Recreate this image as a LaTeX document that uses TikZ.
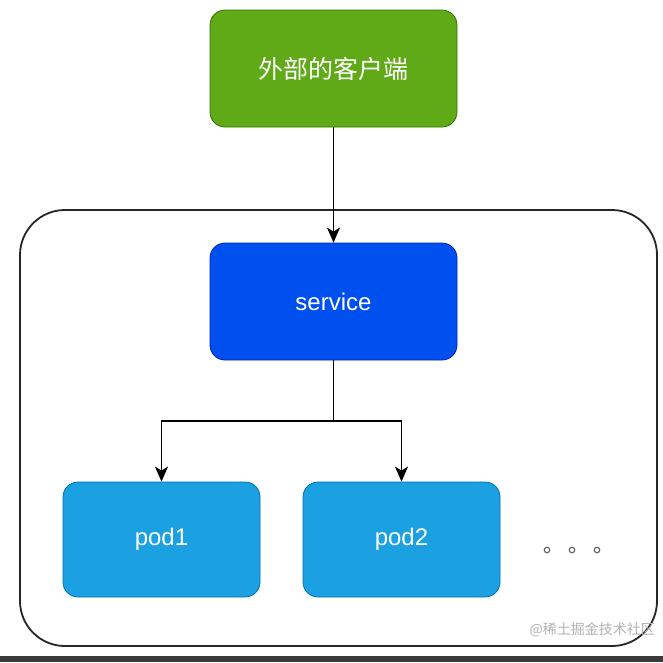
\documentclass[tikz,border=0pt]{standalone}
\usepackage{fontspec}
\setmainfont{Liberation Sans}
\newfontfamily\cjk{Noto Sans CJK SC}
\usetikzlibrary{arrows.meta}
\definecolor{gfill}{HTML}{60A917}
\definecolor{gdraw}{HTML}{2D7600}
\definecolor{sfill}{HTML}{0050EF}
\definecolor{sdraw}{HTML}{001DBC}
\definecolor{pfill}{HTML}{1BA1E2}
\definecolor{pdraw}{HTML}{006EAF}
\definecolor{barc}{HTML}{3A3A3A}
\tikzset{
  box/.style={rounded corners=15pt, line width=0.8pt, text=white, inner sep=0pt, align=center},
  conn/.style={line width=1.6pt, -{Stealth[length=15pt,width=13pt,inset=4pt]}},
}
\begin{document}
\begin{tikzpicture}[x=1pt,y=-1pt]
\useasboundingbox (0,0) rectangle (663,662);
\fill[white] (0,0) rectangle (663,662);
\fill[barc] (0,656) rectangle (663,662);
% container
\node[draw=black!85, line width=1.8pt, rounded corners=45pt, minimum width=637pt, minimum height=436pt] (cluster) at (338.5,428) {};
% nodes
\node[box, fill=gfill, draw=gdraw, minimum width=247pt, minimum height=117pt, font=\cjk\fontsize{25}{29}\selectfont] (client) at (333.5,68.5) {外部的客户端};
\node[box, fill=sfill, draw=sdraw, minimum width=247pt, minimum height=117pt, font=\fontsize{24}{28}\selectfont] (service) at (333.5,301.5) {service};
\node[box, fill=pfill, draw=pdraw, minimum width=197pt, minimum height=115pt, font=\fontsize{24}{28}\selectfont] (pod1) at (161.5,539.5) {pod1};
\node[box, fill=pfill, draw=pdraw, minimum width=197pt, minimum height=115pt, font=\fontsize{24}{28}\selectfont] (pod2) at (401.5,539.5) {pod2};
\coordinate (split) at (333.5,421);
% connectors
\draw[conn] (client.south) -- (service.north);
\draw[line width=1.6pt] (service.south) -- (split);
\draw[conn] (split) -| (pod1.north);
\draw[conn] (split) -| (pod2.north);
% dots
\foreach \i/\xx in {1/547,2/572,3/597}{
  \node[circle, draw=black!60, line width=1.2pt, minimum size=5.5pt, inner sep=0pt] (dot\i) at (\xx,550) {};
}
% watermark
\node[text=black!30, font=\cjk\fontsize{14}{16}\selectfont, anchor=east, inner sep=0pt] (wm) at (655,630) {@稀土掘金技术社区};
\end{tikzpicture}
\end{document}
